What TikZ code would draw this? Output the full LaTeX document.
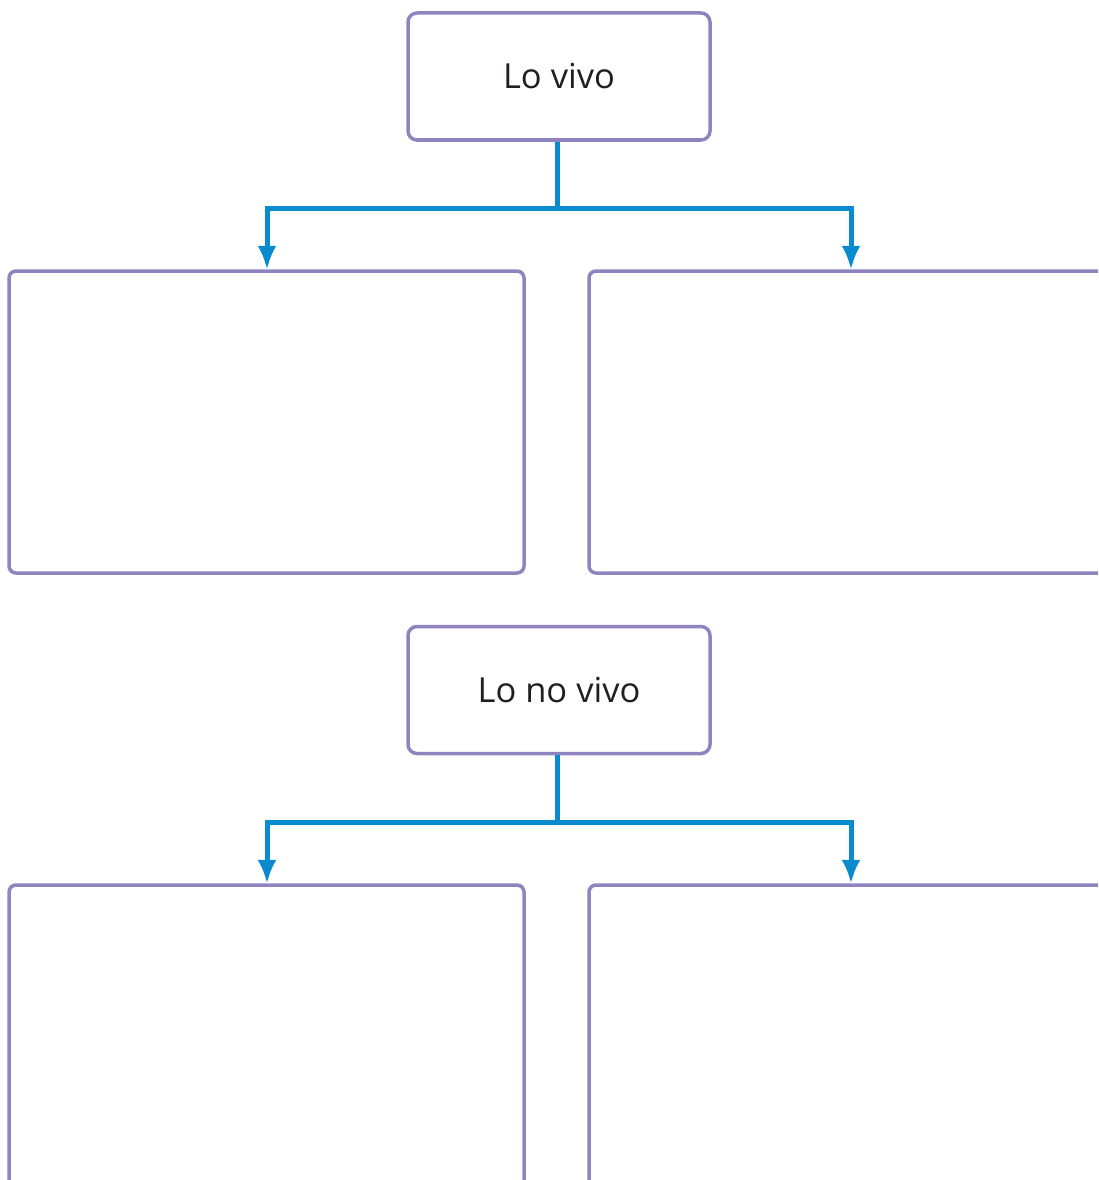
\documentclass[tikz,border=0pt]{standalone}
\usepackage{fontspec}
\setmainfont{Open Sans}
\usetikzlibrary{arrows.meta}
\definecolor{boxline}{HTML}{8F84BF}
\definecolor{conn}{HTML}{0A8BD0}
\definecolor{txt}{HTML}{231F20}
\begin{document}
\begin{tikzpicture}[x=1pt,y=-1pt,
  titlebox/.style={draw=boxline,line width=3.5pt,rounded corners=9pt,minimum width=302pt,minimum height=127pt,inner sep=0pt,font=\fontsize{34.5}{40}\selectfont,text=txt,fill=white},
  answerbox/.style={draw=boxline,line width=3.5pt,rounded corners=7pt,fill=white},
  link/.style={draw=conn,line width=5pt},
  arrowlink/.style={draw=conn,line width=5pt,-{Latex[length=24pt,width=19pt]}}]
\useasboundingbox (0,0) rectangle (1098,1180);
\clip (0,0) rectangle (1098,1180);
% top group
\node[titlebox] (vivo) at (559,76.5) {Lo vivo};
\draw[answerbox] (9,271) rectangle (524,573);
\node[inner sep=0pt,minimum size=0pt] (vivoL) at (267,270) {};
\draw[answerbox] (589,271) rectangle (1120,573);
\node[inner sep=0pt,minimum size=0pt] (vivoR) at (851,270) {};
\coordinate (j1) at (557,208);
\draw[link] (vivo.south -| j1) -- (j1);
\draw[arrowlink] (j1) -| (vivoL.north);
\draw[arrowlink] (j1) -| (vivoR.north);
% bottom group
\node[titlebox] (novivo) at (559,690) {Lo no vivo};
\draw[answerbox] (9,885) rectangle (524,1220);
\node[inner sep=0pt,minimum size=0pt] (novivoL) at (267,884) {};
\draw[answerbox] (589,885) rectangle (1120,1220);
\node[inner sep=0pt,minimum size=0pt] (novivoR) at (851,884) {};
\coordinate (j2) at (557,822);
\draw[link] (novivo.south -| j2) -- (j2);
\draw[arrowlink] (j2) -| (novivoL.north);
\draw[arrowlink] (j2) -| (novivoR.north);
\end{tikzpicture}
\end{document}
